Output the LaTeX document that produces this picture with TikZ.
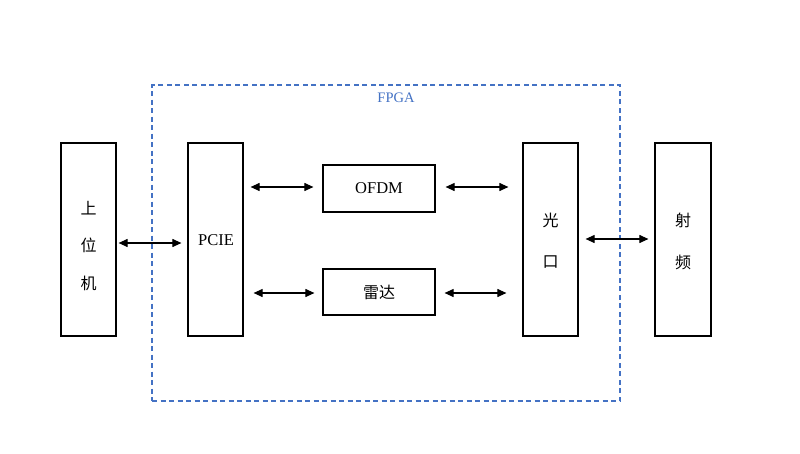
\documentclass[tikz,border=0pt]{standalone}
\usepackage{fontspec}
\setmainfont{Liberation Serif}
\newfontfamily\cjk{Noto Sans CJK SC}
\usetikzlibrary{arrows.meta}
\definecolor{fpgablue}{HTML}{4472C4}
\begin{document}
\begin{tikzpicture}[x=1pt,y=-1pt,
  blk/.style={draw=black,line width=1.2pt,inner sep=0pt},
  conn/.style={line width=1.1pt,{Triangle[width=8pt,length=9pt]}-{Triangle[width=8pt,length=9pt]}},
  lbl/.style={font=\fontsize{16.5}{18}\selectfont},
  cjklbl/.style={font=\cjk\fontsize{16}{18}\selectfont}]
\useasboundingbox (0,0) rectangle (800,453);
% FPGA region
\node[draw=fpgablue,dashed,dash pattern=on 5pt off 3.5pt,line width=1.3pt,minimum width=468pt,minimum height=316pt,inner sep=0pt] (fpga) at (386,243) {};
\node[text=fpgablue,font=\fontsize{14.5}{16}\selectfont] (fpgalbl) at (396,98) {FPGA};
% blocks
\node[blk,minimum width=55pt,minimum height=193pt] (host) at (88.5,239.5) {};
\node[blk,minimum width=55pt,minimum height=193pt] (pcie) at (215.5,239.5) {};
\node[blk,minimum width=112pt,minimum height=47pt] (ofdm) at (379,188.5) {};
\node[blk,minimum width=112pt,minimum height=46pt] (radar) at (379,292) {};
\node[blk,minimum width=55pt,minimum height=193pt] (opt) at (550.5,239.5) {};
\node[blk,minimum width=56pt,minimum height=193pt] (rf) at (683,239.5) {};
% texts
\node[cjklbl] (t1) at (88.5,208) {上};
\node[cjklbl] (t2) at (88.5,245) {位};
\node[cjklbl] (t3) at (88.5,283) {机};
\node[lbl] (tp) at (216,240) {PCIE};
\node[lbl] (to) at (379,188) {OFDM};
\node[cjklbl] (tr) at (379,292) {雷达};
\node[cjklbl] (g1) at (550.5,220) {光};
\node[cjklbl] (g2) at (550.5,262) {口};
\node[cjklbl] (r1) at (683,220) {射};
\node[cjklbl] (r2) at (683,262) {频};
% connectors
\draw[conn,shorten <=2pt,shorten >=6pt] (host.east |- 0,243) -- (pcie.west |- 0,243);
\draw[conn,shorten <=7pt,shorten >=9pt] (pcie.east |- 0,187) -- (ofdm.west |- 0,187);
\draw[conn,shorten <=10pt,shorten >=14pt] (ofdm.east |- 0,187) -- (opt.west |- 0,187);
\draw[conn,shorten <=10pt,shorten >=8pt] (pcie.east |- 0,293) -- (radar.west |- 0,293);
\draw[conn,shorten <=9pt,shorten >=16pt] (radar.east |- 0,293) -- (opt.west |- 0,293);
\draw[conn,shorten <=7pt,shorten >=6pt] (opt.east |- 0,239) -- (rf.west |- 0,239);
\end{tikzpicture}
\end{document}
